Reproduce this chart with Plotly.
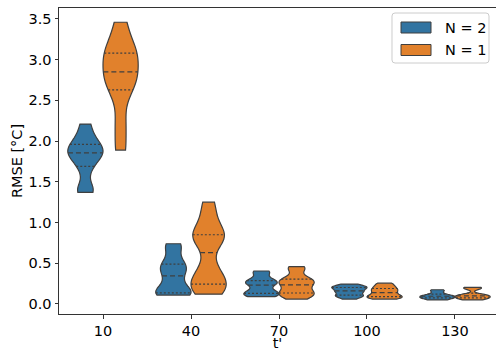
import numpy as np
import plotly.graph_objects as go

# ---------------- data ----------------
categories = ["10", "40", "70", "100", "130"]
series_names = ["N = 2", "N = 1"]
series_colors = ["#3274a1", "#e1812c"]

# RMSE samples per t' for N = 2
n2_t10 = [1.37, 1.42, 1.66, 1.78, 1.84, 1.87, 1.90, 1.98, 2.05, 2.21]
n2_t40 = [0.11, 0.12, 0.13, 0.14, 0.22, 0.30, 0.39, 0.44, 0.47, 0.55, 0.69, 0.74]
n2_t70 = [0.09, 0.11, 0.12, 0.135, 0.16, 0.21, 0.255, 0.26, 0.28, 0.305, 0.38, 0.405]
n2_t100 = [0.06, 0.09, 0.10, 0.113, 0.14, 0.155, 0.165, 0.19, 0.20, 0.21, 0.22, 0.245]
n2_t130 = [0.05, 0.06, 0.07, 0.077, 0.085, 0.09, 0.10, 0.105, 0.115, 0.135, 0.16, 0.175]

# RMSE samples per t' for N = 1
n1_t10 = [1.89, 2.22, 2.60, 2.72, 2.80, 2.90, 3.05, 3.09, 3.20, 3.46]
n1_t40 = [0.12, 0.20, 0.23, 0.25, 0.35, 0.48, 0.78, 0.82, 0.84, 0.88, 1.08, 1.25]
n1_t70 = [0.06, 0.10, 0.12, 0.14, 0.17, 0.22, 0.25, 0.27, 0.30, 0.32, 0.42, 0.46]
n1_t100 = [0.06, 0.075, 0.085, 0.092, 0.11, 0.13, 0.15, 0.17, 0.185, 0.205, 0.23, 0.255]
n1_t130 = [0.05, 0.06, 0.07, 0.078, 0.085, 0.095, 0.105, 0.11, 0.115, 0.19, 0.195, 0.205]

series_data = [
    [n2_t10, n2_t40, n2_t70, n2_t100, n2_t130],
    [n1_t10, n1_t40, n1_t70, n1_t100, n1_t130],
]

# ---------------- style ----------------
EDGE = "#3f3f3f"
FONT = dict(family="DejaVu Sans", size=14.5, color="#000000")
VWIDTH = 0.4          # width of one violin (category units)
DODGE = 0.2           # offset of each hue from the category centre
BW_FACTOR = 0.6       # fraction of Scott's bandwidth

W, H = 496, 351
ML, MR, MT, MB = 59, 0, 8, 37
PW, PH = W - ML - MR, H - MT - MB


def bandwidth(vals):
    v = np.asarray(vals, float)
    return BW_FACTOR * v.std(ddof=1) * len(v) ** (-0.2)


def kde_grid(vals, bw):
    """Same density grid as plotly's violin (span 'hard')."""
    v = np.asarray(vals, float)
    lo, hi = v.min(), v.max()
    n = int(np.ceil((hi - lo) / (bw / 3)))
    t = lo + (hi - lo) / n * np.arange(n + 1)
    d = np.exp(-0.5 * ((t[:, None] - v[None, :]) / bw) ** 2).sum(1)
    return t, d


fig = go.Figure()

for s, (name, color, groups) in enumerate(zip(series_names, series_colors, series_data)):
    offset = -DODGE if s == 0 else DODGE
    for i, vals in enumerate(groups):
        pos = i + offset
        bw = bandwidth(vals)
        fig.add_trace(go.Violin(
            x=[pos] * len(vals), y=vals,
            width=VWIDTH, spanmode="hard", bandwidth=bw, scalemode="width",
            points=False, box_visible=False, meanline_visible=False,
            fillcolor=color, line=dict(color=EDGE, width=1.2), opacity=1,
            name=name, showlegend=False, hoverinfo="skip",
        ))
        # quartile lines (seaborn inner="quartile")
        t, d = kde_grid(vals, bw)
        dmax = d.max()
        q1, q2, q3 = np.percentile(vals, [25, 50, 75])
        for q, dash in ((q1, "2px,2px"), (q2, "5px,3px"), (q3, "2px,2px")):
            hw = VWIDTH / 2 * np.interp(q, t, d) / dmax
            fig.add_trace(go.Scatter(
                x=[pos - hw, pos + hw], y=[q, q], mode="lines",
                line=dict(color=EDGE, width=1.2, dash=dash),
                showlegend=False, hoverinfo="skip",
            ))


# ---------------- legend (matplotlib-style, drawn in paper space) ----------------
def px(x):
    return (x - ML) / PW


def py(y):
    return (H - MB - y) / PH


def rounded_rect(x0, y0, x1, y1, r):
    X = lambda v: f"{px(v):.5f}"
    Y = lambda v: f"{py(v):.5f}"
    return (f"M {X(x0 + r)},{Y(y0)} L {X(x1 - r)},{Y(y0)} Q {X(x1)},{Y(y0)} {X(x1)},{Y(y0 + r)} "
            f"L {X(x1)},{Y(y1 - r)} Q {X(x1)},{Y(y1)} {X(x1 - r)},{Y(y1)} "
            f"L {X(x0 + r)},{Y(y1)} Q {X(x0)},{Y(y1)} {X(x0)},{Y(y1 - r)} "
            f"L {X(x0)},{Y(y0 + r)} Q {X(x0)},{Y(y0)} {X(x0 + r)},{Y(y0)} Z")


shapes = [dict(type="path", xref="paper", yref="paper", layer="above",
               path=rounded_rect(392, 13, 489, 63, 3),
               line=dict(color="#cccccc", width=1), fillcolor="rgba(255,255,255,0.8)")]
annotations = []
for k, (name, color) in enumerate(zip(series_names, series_colors)):
    yc = 27.5 + k * 22.5
    shapes.append(dict(type="rect", xref="paper", yref="paper", layer="above",
                       x0=px(401), x1=px(431), y0=py(yc - 5.5), y1=py(yc + 5.5),
                       line=dict(color=EDGE, width=1), fillcolor=color))
    annotations.append(dict(xref="paper", yref="paper", x=px(443), y=py(yc),
                            xanchor="left", yanchor="middle", text=name,
                            showarrow=False, font=FONT))

fig.update_layout(
    width=W, height=H,
    margin=dict(l=ML, r=MR, t=MT, b=MB, autoexpand=False),
    paper_bgcolor="white", plot_bgcolor="white",
    font=FONT, showlegend=False,
    violinmode="overlay",
    shapes=shapes, annotations=annotations,
)

fig.update_xaxes(
    range=[-0.5, 4.466], tickmode="array", tickvals=list(range(len(categories))),
    ticktext=categories, ticks="outside", ticklen=3.5, tickwidth=1, tickcolor="#333333",
    showline=True, linecolor="#333333", linewidth=1, mirror=True,
    showgrid=False, zeroline=False, automargin=False,
    title=dict(text="t'", font=FONT, standoff=4),
)
fig.update_yaxes(
    range=[-0.123, 3.635], tickmode="array", tickvals=[0, 0.5, 1, 1.5, 2, 2.5, 3, 3.5],
    tickformat=".1f", ticks="outside", ticklen=3.5, tickwidth=1, tickcolor="#333333",
    showline=True, linecolor="#333333", linewidth=1, mirror=False,
    showgrid=False, zeroline=False, automargin=False,
    title=dict(text="RMSE [°C]", font=FONT, standoff=2),
)

fig.write_html(
    "out.html",
    config={"displayModeBar": False},
    post_script="document.body.style.margin='0';document.body.style.padding='0';",
)
